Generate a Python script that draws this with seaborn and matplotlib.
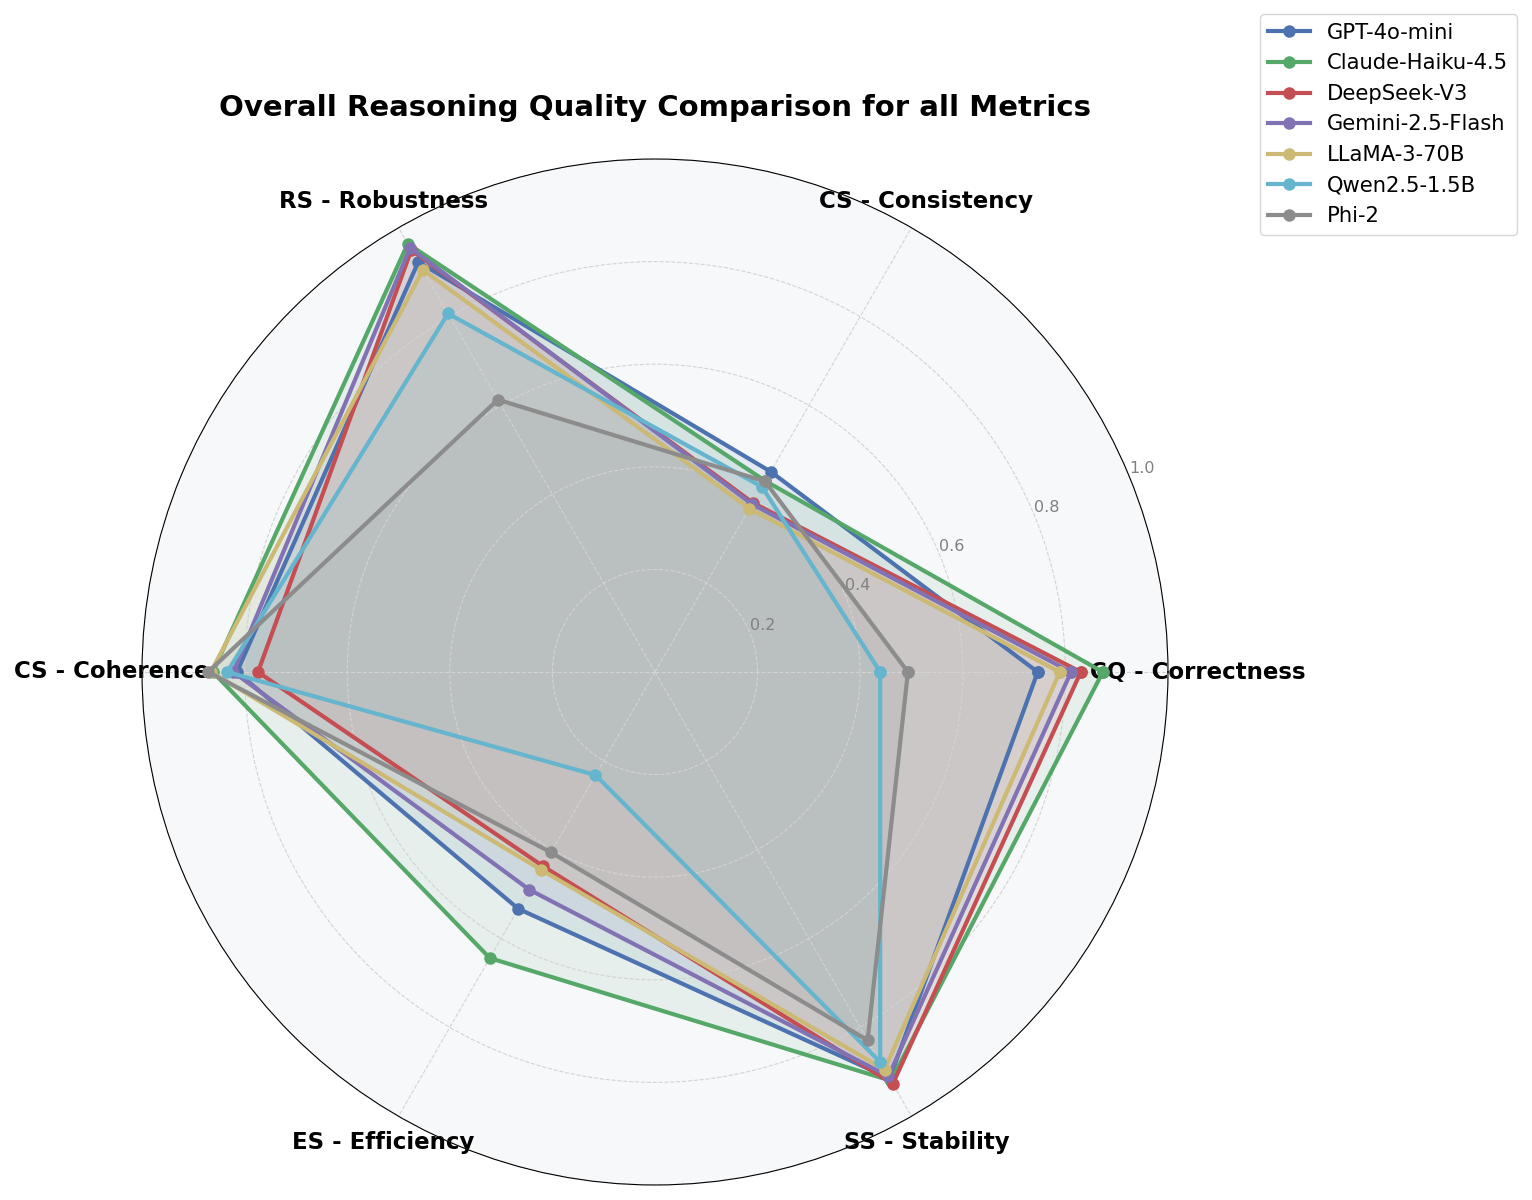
import numpy as np
import pandas as pd
import matplotlib
matplotlib.use('Agg')
import matplotlib.pyplot as plt
import seaborn as sns

# Metrics (counter-clockwise from the right)
metrics = ['CQ - Correctness', 'CS - Consistency', 'RS - Robustness',
           'CS - Coherence', 'ES - Efficiency', 'SS - Stability']
models = ['GPT-4o-mini', 'Claude-Haiku-4.5', 'DeepSeek-V3', 'Gemini-2.5-Flash',
          'LLaMA-3-70B', 'Qwen2.5-1.5B', 'Phi-2']

gpt = [0.746, 0.451, 0.923, 0.815, 0.533, 0.915]
claude = [0.873, 0.430, 0.964, 0.862, 0.644, 0.920]
deepseek = [0.830, 0.381, 0.950, 0.774, 0.437, 0.927]
gemini = [0.811, 0.378, 0.955, 0.822, 0.490, 0.910]
llama = [0.789, 0.368, 0.905, 0.866, 0.445, 0.895]
qwen = [0.439, 0.417, 0.807, 0.834, 0.232, 0.878]
phi = [0.493, 0.429, 0.613, 0.871, 0.406, 0.829]
scores = [gpt, claude, deepseek, gemini, llama, qwen, phi]

deep = sns.color_palette('deep')
colors = [deep[0], deep[2], deep[3], deep[4], deep[8], deep[9], deep[7]]

angles = np.linspace(0, 2 * np.pi, len(metrics), endpoint=False)

fig = plt.figure(figsize=(15.32, 12), dpi=100)
ax = fig.add_axes([0.0927, 0.0125, 0.6697, 0.855], projection='polar')
ax.set_facecolor('#F7F8FA')

for name, vals, col in zip(models, scores, colors):
    th = np.append(angles, 2 * np.pi)
    r = np.append(vals, vals[0])
    df = pd.DataFrame({'theta': th, 'r': r})
    sns.lineplot(data=df, x='theta', y='r', sort=False, estimator=None,
                 errorbar=None, ax=ax, color=col, linewidth=3, marker='o',
                 markersize=9, markeredgewidth=0, label=name)
    ax.fill(th, r, color=col, alpha=0.1)

ax.set_ylim(0, 1.0)
ax.set_xticks(angles)
ax.set_xticklabels(metrics, fontsize=16.5, fontweight='bold')
ax.tick_params(axis='x', pad=11)
ax.set_yticks([0.2, 0.4, 0.6, 0.8, 1.0])
ax.set_yticklabels(['0.2', '0.4', '0.6', '0.8', '1.0'], fontsize=11.5, color='gray')
ax.set_rlabel_position(22.5)
ax.set_xlabel('')
ax.set_ylabel('')
ax.grid(True, linestyle='--', color='lightgray', linewidth=0.8)
ax.spines['polar'].set_color('black')

ax.set_title('Overall Reasoning Quality Comparison for all Metrics',
             fontsize=21, fontweight='bold', pad=31)
ax.legend(loc='upper right', bbox_to_anchor=(1.34, 1.141), borderaxespad=0,
          fontsize=15.2)

fig.savefig('out.png', dpi=100)
